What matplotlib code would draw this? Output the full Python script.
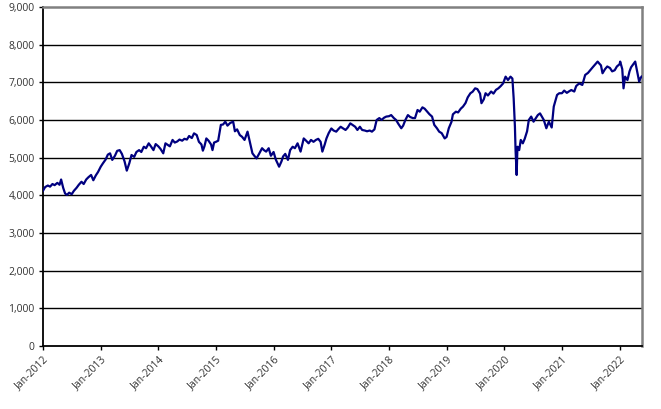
import matplotlib
matplotlib.use("Agg")
import matplotlib.pyplot as plt
import matplotlib.dates as mdates
from matplotlib.ticker import FuncFormatter
import pandas as pd

OUT = "out.png"

dates = [
    # 2012
    "2012-01-01", "2012-01-15", "2012-02-01", "2012-02-15", "2012-03-01", "2012-03-15",
    "2012-04-01", "2012-04-15", "2012-04-25", "2012-05-08", "2012-05-20", "2012-06-01",
    "2012-06-15", "2012-07-01", "2012-07-15", "2012-08-01", "2012-08-15", "2012-09-01",
    "2012-09-15", "2012-10-01", "2012-10-15", "2012-11-01", "2012-11-15", "2012-12-01",
    "2012-12-15",
    # 2013
    "2013-01-01", "2013-01-15", "2013-02-01", "2013-02-15", "2013-03-01", "2013-03-15",
    "2013-04-01", "2013-04-15", "2013-05-01", "2013-05-15", "2013-06-01", "2013-06-15",
    "2013-07-01", "2013-07-15", "2013-08-01", "2013-08-15", "2013-09-01", "2013-09-15",
    "2013-10-01", "2013-10-15", "2013-11-01", "2013-11-15", "2013-12-01", "2013-12-15",
    # 2014
    "2014-01-01", "2014-01-15", "2014-02-01", "2014-02-15", "2014-03-01", "2014-03-15",
    "2014-04-01", "2014-04-15", "2014-05-01", "2014-05-15", "2014-06-01", "2014-06-15",
    "2014-07-01", "2014-07-15", "2014-08-01", "2014-08-15", "2014-09-01", "2014-09-15",
    "2014-10-01", "2014-10-10", "2014-10-20", "2014-11-01", "2014-11-15", "2014-12-01",
    "2014-12-10", "2014-12-20",
    # 2015
    "2015-01-01", "2015-01-15", "2015-02-01", "2015-02-15", "2015-03-01", "2015-03-15",
    "2015-04-01", "2015-04-20", "2015-05-01", "2015-05-15", "2015-06-01", "2015-06-15",
    "2015-07-01", "2015-07-20", "2015-08-01", "2015-08-20", "2015-09-01", "2015-09-15",
    "2015-10-01", "2015-10-20", "2015-11-01", "2015-11-15", "2015-12-01", "2015-12-15",
    # 2016
    "2016-01-01", "2016-01-15", "2016-02-05", "2016-02-20", "2016-03-01", "2016-03-15",
    "2016-04-01", "2016-04-15", "2016-05-01", "2016-05-15", "2016-06-01", "2016-06-20",
    "2016-07-10", "2016-07-25", "2016-08-10", "2016-08-25", "2016-09-10", "2016-09-25",
    "2016-10-10", "2016-10-25", "2016-11-05", "2016-11-20", "2016-12-01", "2016-12-15",
    # 2017
    "2017-01-01", "2017-01-15", "2017-02-01", "2017-02-15", "2017-03-01", "2017-03-15",
    "2017-04-01", "2017-04-15", "2017-05-01", "2017-05-15", "2017-06-01", "2017-06-15",
    "2017-07-01", "2017-07-15", "2017-08-01", "2017-08-15", "2017-09-01", "2017-09-15",
    "2017-10-01", "2017-10-15", "2017-11-01", "2017-11-15", "2017-12-01", "2017-12-15",
    # 2018
    "2018-01-01", "2018-01-15", "2018-02-01", "2018-02-15", "2018-03-01", "2018-03-20",
    "2018-04-01", "2018-04-15", "2018-05-01", "2018-05-15", "2018-06-01", "2018-06-15",
    "2018-07-01", "2018-07-15", "2018-08-01", "2018-08-15", "2018-09-01", "2018-09-15",
    "2018-10-01", "2018-10-15", "2018-11-01", "2018-11-15", "2018-12-01", "2018-12-20",
    # 2019
    "2019-01-01", "2019-01-15", "2019-02-01", "2019-02-10", "2019-03-01", "2019-03-15",
    "2019-04-01", "2019-04-15", "2019-05-01", "2019-05-15", "2019-06-01", "2019-06-15",
    "2019-07-01", "2019-07-15", "2019-08-01", "2019-08-10", "2019-08-25", "2019-09-05",
    "2019-09-20", "2019-10-10", "2019-10-25", "2019-11-10", "2019-11-25", "2019-12-10",
    "2019-12-25",
    # 2020
    "2020-01-10", "2020-01-25", "2020-02-10", "2020-02-22", "2020-03-01", "2020-03-09",
    "2020-03-13", "2020-03-20", "2020-03-25", "2020-04-05", "2020-04-15", "2020-04-28",
    "2020-05-10", "2020-05-25", "2020-06-05", "2020-06-20", "2020-07-05", "2020-07-20",
    "2020-08-01", "2020-08-15", "2020-09-08", "2020-09-24", "2020-10-10", "2020-10-28",
    "2020-11-10", "2020-12-01", "2020-12-15",
    # 2021
    "2021-01-01", "2021-01-15", "2021-02-01", "2021-02-15", "2021-03-01", "2021-03-20",
    "2021-04-01", "2021-04-20", "2021-05-10", "2021-05-28", "2021-06-15", "2021-07-01",
    "2021-07-15", "2021-08-01", "2021-08-15", "2021-08-25", "2021-09-05", "2021-09-15",
    "2021-10-01", "2021-10-15", "2021-11-01", "2021-11-15", "2021-12-01", "2021-12-15",
    # 2022
    "2022-01-01", "2022-01-05", "2022-01-18", "2022-01-26", "2022-02-05", "2022-02-20",
    "2022-03-05", "2022-03-15", "2022-04-10", "2022-04-25", "2022-05-05", "2022-05-12",
    "2022-05-20",
]

values = [
    # 2012
    4120, 4220, 4260, 4230, 4300, 4270, 4330, 4280, 4420, 4200, 4050, 4010,
    4070, 4030, 4120, 4200, 4280, 4360, 4300, 4420, 4480, 4540, 4400, 4530,
    4620,
    # 2013
    4760, 4850, 4950, 5080, 5115, 4940, 5050, 5180, 5200, 5100, 4900, 4655,
    4850, 5070, 5020, 5150, 5200, 5150, 5290, 5250, 5380, 5300, 5200, 5360,
    # 2014
    5300, 5230, 5115, 5380, 5340, 5300, 5470, 5400, 5430, 5480, 5450, 5500,
    5480, 5575, 5520, 5645, 5600, 5420, 5350, 5185, 5300, 5510, 5450, 5350,
    5200, 5400,
    # 2015
    5420, 5450, 5870, 5880, 5955, 5850, 5920, 5955, 5700, 5750, 5600, 5555,
    5470, 5690, 5470, 5115, 5050, 4980, 5100, 5250, 5200, 5160, 5250, 5050,
    # 2016
    5150, 4950, 4760, 4900, 5030, 5100, 4940, 5200, 5290, 5250, 5380, 5160,
    5510, 5450, 5380, 5470, 5420, 5470, 5500, 5420, 5160, 5350, 5510, 5650,
    # 2017
    5775, 5720, 5690, 5760, 5820, 5780, 5735, 5800, 5910, 5870, 5820, 5735,
    5820, 5735, 5720, 5700, 5720, 5690, 5750, 6000, 6050, 6000, 6060, 6090,
    # 2018
    6100, 6130, 6050, 6000, 5900, 5780, 5850, 6000, 6130, 6080, 6050, 6050,
    6265, 6220, 6335, 6300, 6220, 6150, 6090, 5870, 5780, 5690, 5650, 5510,
    # 2019
    5550, 5780, 5950, 6150, 6220, 6200, 6300, 6355, 6450, 6600, 6710, 6750,
    6840, 6820, 6700, 6445, 6550, 6710, 6650, 6755, 6700, 6800, 6840, 6900,
    6970,
    # 2020
    7150, 7060, 7150, 7100, 6575, 5820, 5200, 4540, 5290, 5200, 5470, 5380,
    5500, 5700, 6000, 6090, 5955, 6050, 6130, 6175, 6000, 5780, 5955, 5800,
    6355, 6665, 6710,
    # 2021
    6710, 6780, 6720, 6760, 6795, 6755, 6900, 6970, 6930, 7195, 7250, 7330,
    7400, 7480, 7550, 7500, 7450, 7240, 7350, 7420, 7380, 7290, 7320, 7420,
    # 2022
    7480, 7550, 7350, 6840, 7150, 7060, 7290, 7400, 7550, 7240, 7020, 7100,
    7150,
]

tick_years = list(range(2012, 2023))
y_ticks = list(range(0, 9001, 1000))


def main():
    x = pd.to_datetime(dates)

    fig = plt.figure(figsize=(6.61, 4.09), dpi=100)
    ax = fig.add_axes([0.065, 0.154, 0.906, 0.829])

    ax.plot(x, values, color="#000080", lw=1.6, zorder=3)

    ax.set_ylim(0, 9000)
    ax.set_xlim(pd.Timestamp("2012-01-01"), pd.Timestamp("2022-05-22"))
    ax.set_yticks(y_ticks)
    ax.yaxis.set_major_formatter(FuncFormatter(lambda v, p: f"{v:,.0f}"))
    ax.set_xticks([pd.Timestamp(f"{y}-01-01") for y in tick_years])
    ax.xaxis.set_major_formatter(mdates.DateFormatter("%b-%Y"))

    for v in y_ticks[1:-1]:
        ax.axhline(v, color="black", lw=1.0, zorder=1)

    for side in ("left", "bottom"):
        ax.spines[side].set_color("black")
        ax.spines[side].set_linewidth(1.3)
    for side in ("top", "right"):
        ax.spines[side].set_color("#808080")
        ax.spines[side].set_linewidth(1.8)

    ax.tick_params(axis="both", direction="out", length=3, width=1,
                   labelsize=7.5, labelcolor="#333333", color="black", pad=3)
    for lab in ax.get_yticklabels():
        lab.set_fontfamily("Open Sans")
    for lab in ax.get_xticklabels():
        lab.set_fontfamily("Open Sans")
        lab.set_rotation(45)
        lab.set_ha("right")
        lab.set_rotation_mode("anchor")

    fig.savefig(OUT, dpi=100)
    plt.close(fig)


if __name__ == "__main__":
    main()
